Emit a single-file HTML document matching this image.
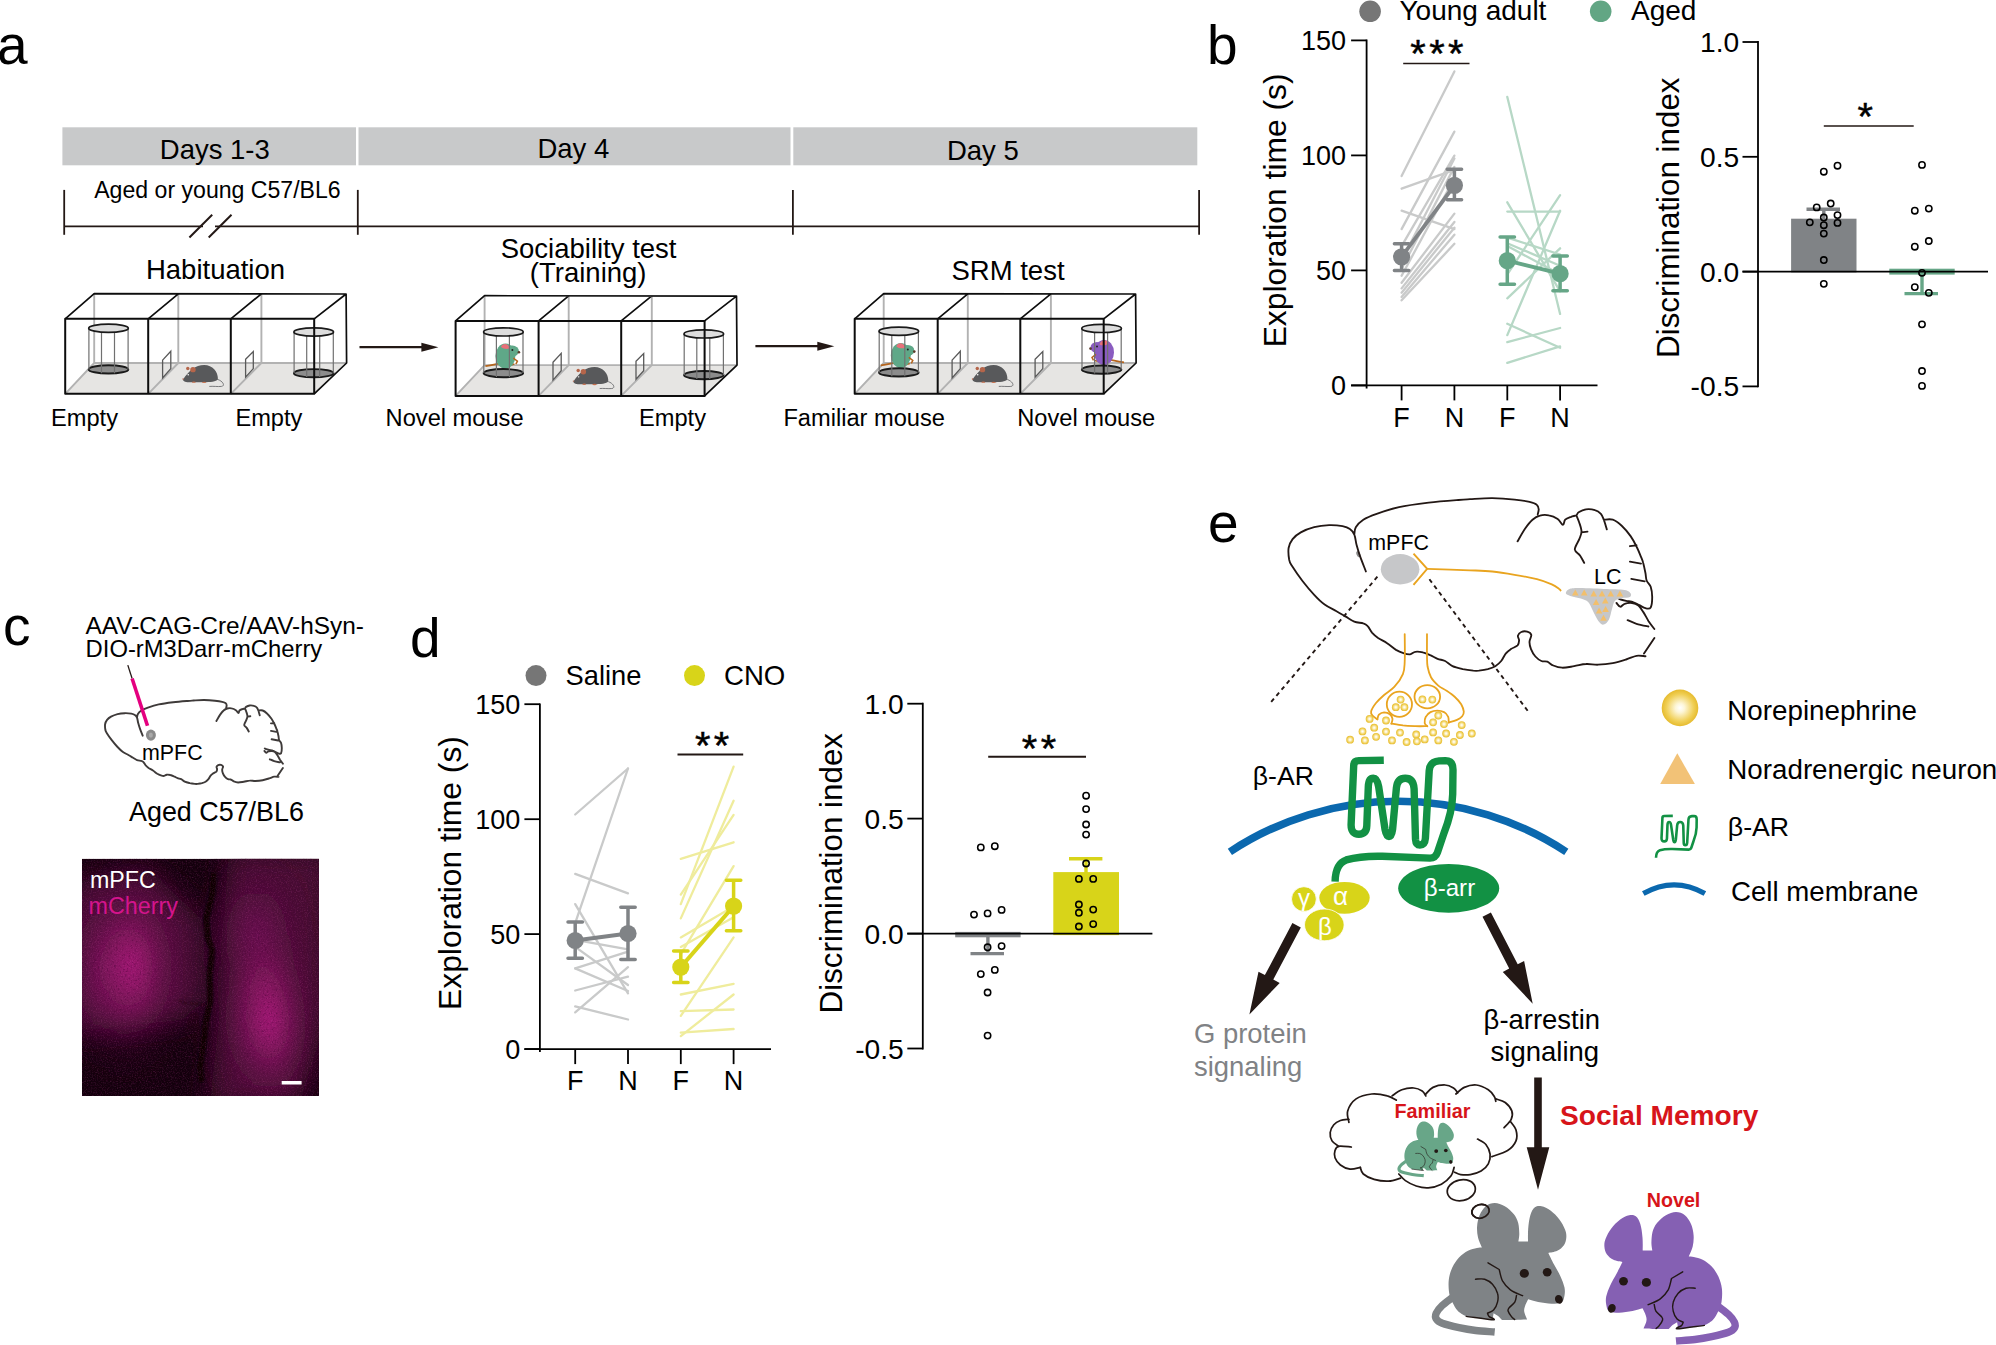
<!DOCTYPE html>
<html><head><meta charset="utf-8"><title>Figure</title>
<style>
html,body{margin:0;padding:0;background:#fff;}
body{width:1996px;height:1345px;overflow:hidden;}
svg{display:block;font-family:'Liberation Sans', Arial, Helvetica, sans-serif;}
</style></head><body>
<svg width="1996" height="1345" viewBox="0 0 1996 1345">
<rect width="1996" height="1345" fill="#fff"/>
<defs><path id="brain" d="M1365.9,571.5 C1365.0,569.1 1361.9,561.3 1360.3,556.9 C1358.7,552.5 1357.6,548.7 1356.6,545.0 C1355.6,541.3 1355.5,537.3 1354.3,534.6 C1353.2,531.9 1351.9,530.4 1349.9,529.0 C1347.9,527.5 1345.9,526.8 1342.5,526.1 C1339.0,525.5 1333.8,525.1 1329.1,525.2 C1324.4,525.4 1318.9,526.0 1314.2,527.2 C1309.5,528.4 1304.4,530.4 1300.8,532.4 C1297.2,534.4 1294.7,536.5 1292.6,539.1 C1290.6,541.7 1289.2,544.5 1288.6,548.0 C1288.1,551.5 1288.7,556.9 1289.2,559.9 C1289.8,562.9 1289.7,562.4 1291.9,565.8 C1294.1,569.3 1298.6,575.9 1302.3,580.7 C1306.0,585.5 1310.5,590.9 1314.2,594.8 C1317.9,598.8 1320.9,601.8 1324.6,604.5 C1328.3,607.2 1333.0,609.2 1336.5,611.2 C1340.0,613.2 1342.5,614.7 1345.4,616.4 C1348.4,618.1 1351.4,620.4 1354.3,621.6 C1357.3,622.8 1361.0,622.6 1363.3,623.4 C1365.5,624.1 1366.2,624.5 1367.7,626.1 C1369.2,627.6 1370.5,630.8 1372.2,632.8 C1373.9,634.7 1375.7,636.2 1378.1,638.0 C1380.6,639.7 1384.1,641.2 1387.1,643.2 C1390.0,645.1 1393.3,648.2 1396.0,649.9 C1398.7,651.5 1401.1,652.4 1403.4,653.1 C1405.8,653.9 1408.1,654.5 1410.1,654.3 C1412.1,654.1 1413.2,652.1 1415.3,651.8 C1417.4,651.5 1420.3,651.8 1422.8,652.4 C1425.2,652.9 1427.7,654.0 1430.2,655.1 C1432.7,656.1 1435.1,657.8 1437.6,658.8 C1440.1,659.8 1442.6,659.8 1445.1,661.0 C1447.5,662.2 1449.5,664.8 1452.5,666.2 C1455.5,667.6 1459.4,668.4 1462.9,669.2 C1466.4,669.9 1470.6,670.4 1473.3,670.7 C1476.0,670.9 1476.5,670.9 1478.9,670.7 C1481.3,670.4 1485.1,669.9 1487.8,669.2 C1490.6,668.4 1493.0,667.6 1495.3,666.2 C1497.5,664.8 1499.5,663.1 1501.2,661.0 C1503.0,658.9 1504.1,655.6 1505.7,653.6 C1507.3,651.6 1508.9,650.5 1510.9,649.1 C1512.9,647.7 1516.2,646.9 1517.6,645.4 C1518.9,643.9 1519.0,641.8 1519.1,640.2 C1519.1,638.6 1517.5,637.1 1517.9,635.7 C1518.3,634.4 1519.7,632.7 1521.3,632.0 C1522.9,631.3 1525.6,631.2 1527.2,631.7 C1528.9,632.2 1530.9,633.3 1531.3,635.0 C1531.6,636.6 1529.5,639.3 1529.5,641.7 C1529.4,644.0 1530.0,646.6 1531.0,649.1 C1532.0,651.6 1533.7,654.6 1535.4,656.5 C1537.2,658.5 1539.4,660.1 1541.4,661.0 C1543.4,661.9 1545.3,661.0 1547.3,661.7 C1549.3,662.5 1550.8,664.5 1553.3,665.5 C1555.7,666.5 1558.7,667.6 1562.2,667.7 C1565.7,667.8 1570.1,666.8 1574.1,666.2 C1578.1,665.6 1582.0,664.2 1586.0,664.0 C1590.0,663.7 1593.4,664.8 1597.9,664.7 C1602.3,664.6 1608.0,664.1 1612.8,663.2 C1617.5,662.4 1622.2,660.8 1626.1,659.5 C1630.1,658.3 1633.3,656.3 1636.5,655.8 C1639.8,655.3 1644.0,656.2 1645.5,656.2 M1354.3,534.6 C1354.6,533.4 1354.3,529.7 1355.8,527.2 C1357.3,524.7 1359.8,522.0 1363.3,519.7 C1366.7,517.5 1370.7,515.9 1376.7,513.8 C1382.6,511.7 1390.3,509.0 1399.0,507.1 C1407.6,505.2 1418.8,503.8 1428.7,502.6 C1438.6,501.4 1451.6,500.5 1458.4,500.0 C1465.3,499.4 1464.4,499.5 1470.0,499.2 C1475.6,498.9 1484.9,498.1 1492.3,498.2 C1499.7,498.3 1508.4,499.0 1514.6,499.7 C1520.8,500.3 1525.8,501.0 1529.5,501.9 C1533.2,502.8 1535.4,503.6 1536.9,504.9 C1538.5,506.1 1538.6,507.7 1538.7,509.3 C1538.8,510.9 1537.8,513.7 1537.7,514.5 M1517.6,541.3 C1518.8,539.2 1522.5,532.3 1525.0,528.7 C1527.5,525.1 1530.0,521.9 1532.5,519.7 C1534.9,517.6 1537.2,516.3 1539.9,515.6 C1542.6,514.8 1545.8,514.7 1548.8,515.3 C1551.8,515.8 1555.4,517.4 1557.7,519.0 C1560.1,520.6 1561.7,524.8 1562.9,524.9 C1564.2,525.1 1563.8,521.1 1565.2,519.7 C1566.5,518.4 1569.3,517.5 1571.1,516.8 C1573.0,516.0 1575.1,516.0 1576.3,515.3 C1577.6,514.5 1576.9,513.3 1578.6,512.3 C1580.2,511.3 1583.3,509.7 1586.0,509.3 C1588.7,509.0 1592.4,509.3 1594.9,510.1 C1597.4,510.8 1599.4,512.2 1600.9,513.8 C1602.3,515.4 1602.8,517.1 1603.8,519.7 C1604.8,522.3 1606.3,527.8 1606.8,529.4 M1576.3,515.3 C1576.8,516.5 1578.4,520.0 1579.3,522.7 C1580.2,525.4 1581.5,528.9 1581.5,531.6 C1581.5,534.4 1580.4,536.1 1579.3,539.1 C1578.2,542.0 1574.7,546.8 1574.8,549.5 C1575.0,552.2 1578.5,553.2 1580.0,555.4 C1581.6,557.7 1583.5,561.6 1584.2,562.9 M1581.5,532.4 L1587.5,531.6 M1603.8,519.7 C1605.3,519.7 1609.8,518.7 1612.8,519.7 C1615.7,520.7 1618.7,523.0 1621.7,525.7 C1624.6,528.4 1628.1,532.6 1630.6,536.1 C1633.1,539.6 1634.8,543.0 1636.5,546.5 C1638.3,550.0 1639.9,554.2 1641.0,556.9 C1642.1,559.6 1642.5,560.1 1643.2,562.9 C1644.0,565.6 1644.9,570.3 1645.5,573.3 C1646.0,576.2 1645.8,578.5 1646.7,580.7 C1647.5,582.9 1649.8,583.9 1650.7,586.7 C1651.6,589.4 1652.2,593.6 1652.2,597.1 C1652.2,600.5 1651.8,605.6 1650.7,607.5 C1649.6,609.3 1647.3,608.6 1645.5,608.2 C1643.6,607.8 1641.5,606.2 1639.5,605.2 C1637.5,604.3 1635.8,603.0 1633.6,602.3 C1631.3,601.5 1628.4,601.3 1626.1,600.8 C1623.9,600.3 1621.7,599.8 1620.2,599.3 C1618.7,598.8 1617.7,598.1 1617.2,597.8 M1629.9,546.2 L1636.5,545.3 M1629.9,561.7 L1641.0,563.6 M1631.3,578.9 L1644.7,581.4 M1616.5,603.0 C1617.1,603.6 1618.8,606.6 1620.2,606.7 C1621.5,606.9 1622.7,604.4 1624.6,603.8 C1626.6,603.1 1629.9,602.8 1632.1,603.0 C1634.3,603.3 1636.2,603.8 1638.0,605.2 C1639.9,606.7 1641.5,609.3 1643.2,611.9 C1645.0,614.5 1646.6,618.0 1648.4,620.9 C1650.3,623.7 1653.4,627.7 1654.4,629.0 M1627.6,620.1 C1629.1,620.7 1633.1,622.8 1636.5,623.8 C1640.0,624.9 1646.5,626.1 1648.4,626.5 M1654.4,638.0 L1644.0,653.6" fill="none" stroke-linecap="round" stroke-linejoin="round"/></defs>
<g id="panel-a">
<text x="-3.0" y="64.0" font-size="55" text-anchor="start" fill="#000">a</text>
<rect x="62.4" y="127.3" width="293.6" height="38" fill="#c8c9ca"/>
<text x="214.8" y="158.6" font-size="27.5" text-anchor="middle" fill="#000">Days 1-3</text>
<rect x="358.5" y="127.3" width="432.0" height="38" fill="#c8c9ca"/>
<text x="573.4" y="157.9" font-size="27.5" text-anchor="middle" fill="#000">Day 4</text>
<rect x="793.3" y="127.3" width="404.0" height="38" fill="#c8c9ca"/>
<text x="982.8" y="159.6" font-size="27.5" text-anchor="middle" fill="#000">Day 5</text>
<text x="94.2" y="197.5" font-size="23.1" text-anchor="start" fill="#000">Aged or young C57/BL6</text>
<line x1="64.2" y1="226.4" x2="1199.1" y2="226.4" stroke="#231815" stroke-width="1.9"/>
<line x1="64.2" y1="189.9" x2="64.2" y2="234.8" stroke="#231815" stroke-width="1.8"/>
<line x1="357.8" y1="189.9" x2="357.8" y2="234.8" stroke="#231815" stroke-width="1.8"/>
<line x1="792.9" y1="189.9" x2="792.9" y2="234.8" stroke="#231815" stroke-width="1.8"/>
<line x1="1199.1" y1="189.9" x2="1199.1" y2="234.8" stroke="#231815" stroke-width="1.8"/>
<rect x="203" y="222" width="12" height="8" fill="#fff"/>
<line x1="189.4" y1="237.5" x2="212.2" y2="214.7" stroke="#231815" stroke-width="2.0"/>
<line x1="208.7" y1="237.5" x2="231.5" y2="214.7" stroke="#231815" stroke-width="2.0"/>
<text x="215.5" y="279.0" font-size="27.5" text-anchor="middle" fill="#000">Habituation</text>
<text x="588.6" y="257.8" font-size="27.5" text-anchor="middle" fill="#000">Sociability test</text>
<text x="588.2" y="282.0" font-size="27.5" text-anchor="middle" fill="#000">(Training)</text>
<text x="1008.0" y="280.0" font-size="27.5" text-anchor="middle" fill="#000">SRM test</text>
<text x="51.0" y="426.0" font-size="23.65" text-anchor="start" fill="#000">Empty</text>
<text x="235.4" y="426.0" font-size="23.65" text-anchor="start" fill="#000">Empty</text>
<text x="385.6" y="426.0" font-size="23.65" text-anchor="start" fill="#000">Novel mouse</text>
<text x="639.0" y="426.0" font-size="23.65" text-anchor="start" fill="#000">Empty</text>
<text x="783.4" y="426.0" font-size="23.65" text-anchor="start" fill="#000">Familiar mouse</text>
<text x="1017.2" y="426.0" font-size="23.65" text-anchor="start" fill="#000">Novel mouse</text>
<line x1="359.5" y1="347.2" x2="428.4" y2="347.2" stroke="#231815" stroke-width="2.2"/>
<polygon points="438.4,347.2 421.4,342.7 421.4,351.7" fill="#231815"/>
<line x1="755.4" y1="346.2" x2="824.3" y2="346.2" stroke="#231815" stroke-width="2.2"/>
<polygon points="834.3,346.2 817.3,341.7 817.3,350.7" fill="#231815"/>
<defs>
<g id="cyl"><ellipse cx="0" cy="41.2" rx="19.8" ry="4.1" fill="#8c8c8c" stroke="#1a1a1a" stroke-width="1.9"/><path d="M-19.6,0V41.2M-7,3.8V45M6,3.9V45M19.6,0V41.2" stroke="#707070" stroke-width="1.2" fill="none"/><ellipse cx="0" cy="0" rx="19.8" ry="4.1" fill="#dddddd" stroke="#1a1a1a" stroke-width="1.7"/></g>
<g id="gmouse" transform="scale(0.86,0.78)"><path d="M18,9 C26,11 29,18 24,18.5 C20,19 14,18 10,18.5" fill="none" stroke="#6d6e70" stroke-width="1.1"/><path d="M-20,8.5 C-14,-1 -6,-9 4,-9 C14,-9 20,0 20,8 C20,12 14,13 6,13 L-14,13 C-18,13 -22,11 -20,8.5Z" fill="#58595b"/><ellipse cx="-9" cy="-3" rx="3.2" ry="3.4" fill="#b5654a"/><ellipse cx="-15" cy="-4.5" rx="2" ry="2.2" fill="#b5654a"/><ellipse cx="-8" cy="13" rx="2.2" ry="0.9" fill="#c8704d"/><ellipse cx="4" cy="13.3" rx="2.6" ry="0.9" fill="#c8704d"/><circle cx="-14.5" cy="3.5" r="0.9" fill="#fff"/><circle cx="-20.5" cy="9" r="0.9" fill="#b5654a"/></g>
<g id="cage"><polygon points="0,75 249,75 281.4,44.2 29,44.2" fill="#e6e5e3"/><path d="M29,-25.2V44.2M113.1,-25V44.2M196.2,-25V44.2M29,44.2H281.4M0,75L29,44.2M83,75L113.1,44.2M165.6,75L196.2,44.2" stroke="#b2b2b2" stroke-width="1.9" fill="none"/><path d="M97.4,41.3L105.6,32.4V49.8L97.4,59.2Z M180.4,40.4L188.1,32.7V49.8L180.4,58.3Z" fill="none" stroke="#595959" stroke-width="1.3"/></g>
<g id="cagefront"><path d="M0,0L29,-25.2L280.9,-24.8L281.4,44.2L249,75M83,0L113.1,-25M165.6,0L196.2,-25M249,0L280.9,-24.8" stroke="#0d0d0d" stroke-width="1.7" fill="none" stroke-linejoin="round"/><path d="M0,0H249V75H0ZM83,0V75M165.6,0V75" stroke="#0d0d0d" stroke-width="2" fill="none" stroke-linejoin="round"/></g>
</defs>
<use href="#cage" x="65.2" y="318.8"/>
<use href="#cyl" x="108.5" y="328.2"/>
<use href="#cyl" x="313.7" y="332"/>
<use href="#gmouse" x="200.7" y="372.0"/>
<use href="#cagefront" x="65.2" y="318.8"/>
<use href="#cage" x="455.6" y="320.9"/>
<ellipse cx="503.4" cy="373.09999999999997" rx="20" ry="4.2" fill="#8c8c8c"/>
<g transform="translate(505.4,356.09999999999997) scale(1,1)"><path d="M-20,10 C-12,9 -6,7 2,6" stroke="#b5651d" stroke-width="1.8" fill="none"/><path d="M9,8 L4,9.5" stroke="#b5651d" stroke-width="1.6" fill="none"/><ellipse cx="0" cy="0" rx="10" ry="12.5" fill="#5fa888"/><ellipse cx="7" cy="-5" rx="6.5" ry="5.5" fill="#5fa888"/><path d="M-4.5,-9 C-3,-13.5 3,-13 4.5,-8 C2,-6.5 -2,-7 -4.5,-9Z" fill="#e8707a"/><circle cx="7" cy="-6" r="1" fill="#222"/><circle cx="13.5" cy="-3.8" r="1.3" fill="#5a3a2a"/><path d="M8,2 L12,5 L10.5,8" stroke="#b5651d" stroke-width="1.5" fill="none"/></g>
<use href="#cyl" x="503.4" y="331.9"/>
<use href="#cyl" x="703.8" y="333.9"/>
<use href="#gmouse" x="591.1" y="374.09999999999997"/>
<use href="#cagefront" x="455.6" y="320.9"/>
<use href="#cage" x="854.7" y="318.8"/>
<ellipse cx="898.8" cy="372.4" rx="20" ry="4.2" fill="#8c8c8c"/>
<g transform="translate(900.8,355.4) scale(1,1)"><path d="M-20,10 C-12,9 -6,7 2,6" stroke="#b5651d" stroke-width="1.8" fill="none"/><path d="M9,8 L4,9.5" stroke="#b5651d" stroke-width="1.6" fill="none"/><ellipse cx="0" cy="0" rx="10" ry="12.5" fill="#5fa888"/><ellipse cx="7" cy="-5" rx="6.5" ry="5.5" fill="#5fa888"/><path d="M-4.5,-9 C-3,-13.5 3,-13 4.5,-8 C2,-6.5 -2,-7 -4.5,-9Z" fill="#e8707a"/><circle cx="7" cy="-6" r="1" fill="#222"/><circle cx="13.5" cy="-3.8" r="1.3" fill="#5a3a2a"/><path d="M8,2 L12,5 L10.5,8" stroke="#b5651d" stroke-width="1.5" fill="none"/></g>
<use href="#cyl" x="898.8" y="331.2"/>
<ellipse cx="1101.6" cy="369.59999999999997" rx="20" ry="4.2" fill="#8c8c8c"/>
<g transform="translate(1104.0,352.4) scale(-1,1)"><path d="M-20,10 C-12,9 -6,7 2,6" stroke="#b5651d" stroke-width="1.8" fill="none"/><path d="M9,8 L4,9.5" stroke="#b5651d" stroke-width="1.6" fill="none"/><ellipse cx="0" cy="0" rx="10" ry="12.5" fill="#8a5cc0"/><ellipse cx="7" cy="-5" rx="6.5" ry="5.5" fill="#8a5cc0"/><path d="M-4.5,-9 C-3,-13.5 3,-13 4.5,-8 C2,-6.5 -2,-7 -4.5,-9Z" fill="#e8707a"/><circle cx="7" cy="-6" r="1" fill="#222"/><circle cx="13.5" cy="-3.8" r="1.3" fill="#5a3a2a"/><path d="M8,2 L12,5 L10.5,8" stroke="#b5651d" stroke-width="1.5" fill="none"/></g>
<use href="#cyl" x="1101.6" y="328.4"/>
<use href="#gmouse" x="990.2" y="372.0"/>
<use href="#cagefront" x="854.7" y="318.8"/>
</g>
<g id="panel-b">
<text x="1207.0" y="64.0" font-size="55" text-anchor="start" fill="#000">b</text>
<circle cx="1370.1" cy="11.3" r="10.8" fill="#767676"/>
<text x="1399.5" y="19.5" font-size="28" text-anchor="start" fill="#000">Young adult</text>
<circle cx="1600.7" cy="11.3" r="10.8" fill="#62a684"/>
<text x="1631.0" y="19.5" font-size="28" text-anchor="start" fill="#000">Aged</text>
<path d="M1366.6,39.5V388.4M1366.6,385.4H1597.5" stroke="#000" stroke-width="1.8" fill="none"/>
<path d="M1351.1,385.4H1366.6" stroke="#000" stroke-width="1.8" fill="none"/>
<line x1="1351.1" y1="385.4" x2="1366.6" y2="385.4" stroke="#000" stroke-width="1.8"/>
<text x="1346.0" y="395.0" font-size="27" text-anchor="end" fill="#000">0</text>
<line x1="1351.1" y1="270.4" x2="1366.6" y2="270.4" stroke="#000" stroke-width="1.8"/>
<text x="1346.0" y="280.0" font-size="27" text-anchor="end" fill="#000">50</text>
<line x1="1351.1" y1="155.4" x2="1366.6" y2="155.4" stroke="#000" stroke-width="1.8"/>
<text x="1346.0" y="165.0" font-size="27" text-anchor="end" fill="#000">100</text>
<line x1="1351.1" y1="40.4" x2="1366.6" y2="40.4" stroke="#000" stroke-width="1.8"/>
<text x="1346.0" y="50.0" font-size="27" text-anchor="end" fill="#000">150</text>
<line x1="1401.6" y1="385.4" x2="1401.6" y2="400.4" stroke="#000" stroke-width="1.8"/>
<text x="1401.6" y="427.0" font-size="27" text-anchor="middle" fill="#000">F</text>
<line x1="1454.4" y1="385.4" x2="1454.4" y2="400.4" stroke="#000" stroke-width="1.8"/>
<text x="1454.4" y="427.0" font-size="27" text-anchor="middle" fill="#000">N</text>
<line x1="1507.3" y1="385.4" x2="1507.3" y2="400.4" stroke="#000" stroke-width="1.8"/>
<text x="1507.3" y="427.0" font-size="27" text-anchor="middle" fill="#000">F</text>
<line x1="1560.1" y1="385.4" x2="1560.1" y2="400.4" stroke="#000" stroke-width="1.8"/>
<text x="1560.1" y="427.0" font-size="27" text-anchor="middle" fill="#000">N</text>
<text transform="translate(1286.4,210.4) rotate(-90)" font-size="31.8" text-anchor="middle" fill="#000">Exploration time (s)</text>
<line x1="1401.6" y1="176.0" x2="1454.4" y2="71.4" stroke="#c9caca" stroke-width="2.3" stroke-linecap="round"/>
<line x1="1401.6" y1="188.7" x2="1454.4" y2="169.8" stroke="#c9caca" stroke-width="2.3" stroke-linecap="round"/>
<line x1="1401.6" y1="210.7" x2="1454.4" y2="229.1" stroke="#c9caca" stroke-width="2.3" stroke-linecap="round"/>
<line x1="1401.6" y1="229.1" x2="1454.4" y2="131.6" stroke="#c9caca" stroke-width="2.3" stroke-linecap="round"/>
<line x1="1401.6" y1="246.1" x2="1454.4" y2="155.6" stroke="#c9caca" stroke-width="2.3" stroke-linecap="round"/>
<line x1="1401.6" y1="260.2" x2="1454.4" y2="158.5" stroke="#c9caca" stroke-width="2.3" stroke-linecap="round"/>
<line x1="1401.6" y1="268.7" x2="1454.4" y2="166.9" stroke="#c9caca" stroke-width="2.3" stroke-linecap="round"/>
<line x1="1401.6" y1="275.7" x2="1454.4" y2="178.2" stroke="#c9caca" stroke-width="2.3" stroke-linecap="round"/>
<line x1="1401.6" y1="282.8" x2="1454.4" y2="213.6" stroke="#c9caca" stroke-width="2.3" stroke-linecap="round"/>
<line x1="1401.6" y1="288.4" x2="1454.4" y2="222.0" stroke="#c9caca" stroke-width="2.3" stroke-linecap="round"/>
<line x1="1401.6" y1="292.7" x2="1454.4" y2="227.7" stroke="#c9caca" stroke-width="2.3" stroke-linecap="round"/>
<line x1="1401.6" y1="296.9" x2="1454.4" y2="234.7" stroke="#c9caca" stroke-width="2.3" stroke-linecap="round"/>
<line x1="1401.6" y1="300.3" x2="1454.4" y2="243.8" stroke="#c9caca" stroke-width="2.3" stroke-linecap="round"/>
<line x1="1507.3" y1="96.9" x2="1560.1" y2="313.9" stroke="#b7d8c6" stroke-width="2.3" stroke-linecap="round"/>
<line x1="1507.3" y1="202.3" x2="1560.1" y2="291.3" stroke="#b7d8c6" stroke-width="2.3" stroke-linecap="round"/>
<line x1="1507.3" y1="211.6" x2="1560.1" y2="211.6" stroke="#b7d8c6" stroke-width="2.3" stroke-linecap="round"/>
<line x1="1507.3" y1="237.6" x2="1560.1" y2="254.5" stroke="#b7d8c6" stroke-width="2.3" stroke-linecap="round"/>
<line x1="1507.3" y1="243.2" x2="1560.1" y2="265.8" stroke="#b7d8c6" stroke-width="2.3" stroke-linecap="round"/>
<line x1="1507.3" y1="246.1" x2="1560.1" y2="274.3" stroke="#b7d8c6" stroke-width="2.3" stroke-linecap="round"/>
<line x1="1507.3" y1="274.3" x2="1560.1" y2="195.2" stroke="#b7d8c6" stroke-width="2.3" stroke-linecap="round"/>
<line x1="1507.3" y1="335.1" x2="1560.1" y2="210.7" stroke="#b7d8c6" stroke-width="2.3" stroke-linecap="round"/>
<line x1="1507.3" y1="323.8" x2="1560.1" y2="347.8" stroke="#b7d8c6" stroke-width="2.3" stroke-linecap="round"/>
<line x1="1507.3" y1="342.1" x2="1560.1" y2="328.0" stroke="#b7d8c6" stroke-width="2.3" stroke-linecap="round"/>
<line x1="1507.3" y1="362.8" x2="1560.1" y2="346.4" stroke="#b7d8c6" stroke-width="2.3" stroke-linecap="round"/>
<line x1="1507.3" y1="298.3" x2="1560.1" y2="248.3" stroke="#b7d8c6" stroke-width="2.3" stroke-linecap="round"/>
<line x1="1401.6" y1="256.8" x2="1454.4" y2="185.3" stroke="#808386" stroke-width="3.9"/>
<path d="M1401.6,243.8V270.4M1394.4,243.8H1408.8M1394.4,270.4H1408.8" stroke="#808386" stroke-width="3.5" fill="none" stroke-linecap="round"/>
<circle cx="1401.6" cy="256.8" r="8.6" fill="#808386"/>
<path d="M1454.4,169.2V199.7M1447.2,169.2H1461.6M1447.2,199.7H1461.6" stroke="#808386" stroke-width="3.5" fill="none" stroke-linecap="round"/>
<circle cx="1454.4" cy="185.3" r="8.6" fill="#808386"/>
<line x1="1507.3" y1="260.7" x2="1560.1" y2="273.7" stroke="#66a687" stroke-width="3.9"/>
<path d="M1507.3,237.0V284.2M1500.1,237.0H1514.5M1500.1,284.2H1514.5" stroke="#66a687" stroke-width="3.5" fill="none" stroke-linecap="round"/>
<circle cx="1507.3" cy="260.7" r="8.6" fill="#66a687"/>
<path d="M1560.1,255.9V290.7M1552.9,255.9H1567.3M1552.9,290.7H1567.3" stroke="#66a687" stroke-width="3.5" fill="none" stroke-linecap="round"/>
<circle cx="1560.1" cy="273.7" r="8.6" fill="#66a687"/>
<line x1="1403.2" y1="63.4" x2="1469.5" y2="63.4" stroke="#231815" stroke-width="1.5"/>
<text x="1410.2" y="67.3" font-size="39.7" letter-spacing="3.5" fill="#000" stroke="#000" stroke-width="0.5">***</text>
<path d="M1823.8,245.5V209.2M1806.5,209.2H1840" stroke="#808386" stroke-width="3.4" fill="none" stroke-linecap="butt"/>
<rect x="1791.1" y="218.7" width="65.4" height="53.7" fill="#808386"/>
<path d="M1922,271.6V293.6M1904.5,293.6H1938" stroke="#66a687" stroke-width="3.4" fill="none" stroke-linecap="butt"/>
<rect x="1889.3" y="268.7" width="65.4" height="5.9" fill="#66a687"/>
<path d="M1758,41.1V387.3" stroke="#000" stroke-width="1.8" fill="none"/>
<line x1="1742.5" y1="271.6" x2="1988.0" y2="271.6" stroke="#000" stroke-width="1.9"/>
<line x1="1742.5" y1="42.0" x2="1758.0" y2="42.0" stroke="#000" stroke-width="1.8"/>
<text x="1739.2" y="52.0" font-size="28.2" text-anchor="end" fill="#000">1.0</text>
<line x1="1742.5" y1="156.8" x2="1758.0" y2="156.8" stroke="#000" stroke-width="1.8"/>
<text x="1739.2" y="166.8" font-size="28.2" text-anchor="end" fill="#000">0.5</text>
<line x1="1742.5" y1="271.6" x2="1758.0" y2="271.6" stroke="#000" stroke-width="1.8"/>
<text x="1739.2" y="281.6" font-size="28.2" text-anchor="end" fill="#000">0.0</text>
<line x1="1742.5" y1="386.4" x2="1758.0" y2="386.4" stroke="#000" stroke-width="1.8"/>
<text x="1739.2" y="396.4" font-size="28.2" text-anchor="end" fill="#000">-0.5</text>
<text transform="translate(1678.5,217.7) rotate(-90)" font-size="31.35" text-anchor="middle" fill="#000">Discrimination index</text>
<circle cx="1823.8" cy="171.7" r="3.15" fill="none" stroke="#000" stroke-width="1.55"/>
<circle cx="1837.5" cy="165.7" r="3.15" fill="none" stroke="#000" stroke-width="1.55"/>
<circle cx="1816.7" cy="207.4" r="3.15" fill="none" stroke="#000" stroke-width="1.55"/>
<circle cx="1830.7" cy="203.5" r="3.15" fill="none" stroke="#000" stroke-width="1.55"/>
<circle cx="1837.5" cy="215.1" r="3.15" fill="none" stroke="#000" stroke-width="1.55"/>
<circle cx="1809.8" cy="222.3" r="3.15" fill="none" stroke="#000" stroke-width="1.55"/>
<circle cx="1823.8" cy="217.5" r="3.15" fill="none" stroke="#000" stroke-width="1.55"/>
<circle cx="1837.5" cy="222.9" r="3.15" fill="none" stroke="#000" stroke-width="1.55"/>
<circle cx="1823.8" cy="225.2" r="3.15" fill="none" stroke="#000" stroke-width="1.55"/>
<circle cx="1823.8" cy="233.6" r="3.15" fill="none" stroke="#000" stroke-width="1.55"/>
<circle cx="1823.8" cy="260.0" r="3.15" fill="none" stroke="#000" stroke-width="1.55"/>
<circle cx="1823.8" cy="283.8" r="3.15" fill="none" stroke="#000" stroke-width="1.55"/>
<circle cx="1922.0" cy="164.9" r="3.15" fill="none" stroke="#000" stroke-width="1.55"/>
<circle cx="1914.8" cy="210.7" r="3.15" fill="none" stroke="#000" stroke-width="1.55"/>
<circle cx="1928.8" cy="208.6" r="3.15" fill="none" stroke="#000" stroke-width="1.55"/>
<circle cx="1928.8" cy="241.0" r="3.15" fill="none" stroke="#000" stroke-width="1.55"/>
<circle cx="1914.8" cy="246.7" r="3.15" fill="none" stroke="#000" stroke-width="1.55"/>
<circle cx="1922.0" cy="272.8" r="3.15" fill="none" stroke="#000" stroke-width="1.55"/>
<circle cx="1914.8" cy="287.1" r="3.15" fill="none" stroke="#000" stroke-width="1.55"/>
<circle cx="1928.8" cy="292.8" r="3.15" fill="none" stroke="#000" stroke-width="1.55"/>
<circle cx="1922.0" cy="324.3" r="3.15" fill="none" stroke="#000" stroke-width="1.55"/>
<circle cx="1922.0" cy="371.0" r="3.15" fill="none" stroke="#000" stroke-width="1.55"/>
<circle cx="1922.0" cy="385.9" r="3.15" fill="none" stroke="#000" stroke-width="1.55"/>
<line x1="1823.8" y1="125.9" x2="1913.7" y2="125.9" stroke="#231815" stroke-width="1.5"/>
<text x="1857.4" y="129.8" font-size="39.7" letter-spacing="3.5" fill="#000" stroke="#000" stroke-width="0.5">*</text>
</g>
<g id="panel-c">
<text x="3.0" y="645.0" font-size="55" text-anchor="start" fill="#000">c</text>
<text x="85.6" y="633.6" font-size="24.4" text-anchor="start" fill="#000">AAV-CAG-Cre/AAV-hSyn-</text>
<text x="85.6" y="657.1" font-size="23.8" text-anchor="start" fill="#000">DIO-rM3Darr-mCherry</text>
<use href="#brain" transform="translate(-521.16,457.93) scale(0.486)" stroke="#3e3a39" stroke-width="3.91"/>
<line x1="127.8" y1="665.1" x2="132.1" y2="678.5" stroke="#231815" stroke-width="1.3"/>
<line x1="132.1" y1="678.5" x2="147.5" y2="725.8" stroke="#e4007f" stroke-width="3.6"/>
<ellipse cx="150.9" cy="735.1" rx="5" ry="5.6" fill="#8a8a8a"/>
<ellipse cx="150.9" cy="735.1" rx="2" ry="2.6" fill="#a9a9a9"/>
<text x="142.0" y="759.7" font-size="21.4" text-anchor="start" fill="#000">mPFC</text>
<text x="129.0" y="821.3" font-size="26.9" text-anchor="start" fill="#000">Aged C57/BL6</text>
<defs>
<radialGradient id="mgA"><stop offset="0.0" stop-color="#a61b76" stop-opacity="1.000"/><stop offset="0.1" stop-color="#9e1a71" stop-opacity="0.948"/><stop offset="0.2" stop-color="#97186b" stop-opacity="0.809"/><stop offset="0.3" stop-color="#8f1766" stop-opacity="0.621"/><stop offset="0.4" stop-color="#881661" stop-opacity="0.429"/><stop offset="0.5" stop-color="#80145c" stop-opacity="0.266"/><stop offset="0.6" stop-color="#781356" stop-opacity="0.149"/><stop offset="0.7" stop-color="#711251" stop-opacity="0.075"/><stop offset="0.8" stop-color="#69114c" stop-opacity="0.034"/><stop offset="0.9" stop-color="#620f46" stop-opacity="0.014"/><stop offset="1.0" stop-color="#5a0e41" stop-opacity="0.000"/></radialGradient>
<radialGradient id="mgB"><stop offset="0.0" stop-color="#62104a" stop-opacity="0.950"/><stop offset="0.1" stop-color="#5f0f48" stop-opacity="0.901"/><stop offset="0.2" stop-color="#5c0f45" stop-opacity="0.769"/><stop offset="0.3" stop-color="#5a0e43" stop-opacity="0.590"/><stop offset="0.4" stop-color="#570e41" stop-opacity="0.408"/><stop offset="0.5" stop-color="#540d3e" stop-opacity="0.253"/><stop offset="0.6" stop-color="#510c3c" stop-opacity="0.141"/><stop offset="0.7" stop-color="#4e0c3a" stop-opacity="0.071"/><stop offset="0.8" stop-color="#4c0b38" stop-opacity="0.032"/><stop offset="0.9" stop-color="#490b35" stop-opacity="0.013"/><stop offset="1.0" stop-color="#460a33" stop-opacity="0.000"/></radialGradient>
<clipPath id="mgclip"><rect x="82" y="858.7" width="237" height="237.4"/></clipPath>
<filter id="blur12" x="-50%" y="-50%" width="200%" height="200%"><feGaussianBlur stdDeviation="13"/></filter>
<filter id="blur7" x="-50%" y="-50%" width="200%" height="200%"><feGaussianBlur stdDeviation="4"/></filter>
<filter id="blur2" x="-50%" y="-50%" width="200%" height="200%"><feGaussianBlur stdDeviation="1.1"/></filter>
<filter id="noise" x="0" y="0" width="100%" height="100%"><feTurbulence type="fractalNoise" baseFrequency="0.8" numOctaves="2" seed="7" result="n"/><feColorMatrix in="n" type="matrix" values="0 0 0 0 0.85  0 0 0 0 0.12  0 0 0 0 0.55  0 0 0 2.2 -1.05"/></filter>
<filter id="noised" x="0" y="0" width="100%" height="100%"><feTurbulence type="fractalNoise" baseFrequency="0.55" numOctaves="2" seed="11" result="n"/><feColorMatrix in="n" type="matrix" values="0 0 0 0 0.05  0 0 0 0 0  0 0 0 0 0.03  0 0 0 2.4 -1.25"/></filter>
</defs>
<g clip-path="url(#mgclip)">
<rect x="82" y="858.7" width="237" height="237.4" fill="#13000c"/>
<g filter="url(#blur12)">
<polygon points="70.0,882.9 147.3,867.4 201.5,919.6 203.4,1000.8 182.1,1020.1 70.0,1031.7" fill="#480a34"/>
<polygon points="228.5,850.0 331.0,850.0 331.0,1004.6 298.1,1107.1 209.2,1107.1 220.8,1004.6 224.6,908.0" fill="#460a33"/>
</g>
<g filter="url(#blur7)">
<ellipse cx="108.7" cy="969.9" rx="81.2" ry="116.0" fill="url(#mgB)" opacity="1" transform="rotate(0 108.7 969.9)"/>
<ellipse cx="255.6" cy="931.2" rx="73.5" ry="104.4" fill="url(#mgB)" opacity="1" transform="rotate(0 255.6 931.2)"/>
<ellipse cx="263.3" cy="1024.0" rx="81.2" ry="127.6" fill="url(#mgB)" opacity="1" transform="rotate(0 263.3 1024.0)"/>
<ellipse cx="126.1" cy="967.9" rx="90.9" ry="123.7" fill="url(#mgA)" opacity="0.55" transform="rotate(0 126.1 967.9)"/>
<ellipse cx="265.2" cy="993.1" rx="63.8" ry="146.9" fill="url(#mgA)" opacity="0.45" transform="rotate(-3 265.2 993.1)"/>
<ellipse cx="131.9" cy="966.0" rx="65.7" ry="119.9" fill="url(#mgA)" opacity="0.8" transform="rotate(0 131.9 966.0)"/>
<ellipse cx="269.1" cy="1020.1" rx="59.9" ry="117.9" fill="url(#mgA)" opacity="0.85" transform="rotate(-4 269.1 1020.1)"/>
</g>
<g filter="url(#blur2)">
<polyline points="214.0,873.2 212.1,894.5 206.3,917.7 207.6,937.0 212.1,950.5 209.6,975.7 210.2,1000.8 205.3,1024.0 203.4,1045.2 199.9,1066.5 201.5,1082.0" fill="none" stroke="#090005" stroke-width="6" stroke-linejoin="round"/>
<polyline points="205.3,1004.6 186.0,1002.7 178.3,1000.8" fill="none" stroke="#1a0010" stroke-width="1.5" opacity="0.7"/>
</g>
<rect x="82" y="858.7" width="237" height="237.4" filter="url(#noised)" opacity="0.5"/>
<rect x="82" y="858.7" width="237" height="237.4" filter="url(#noise)" opacity="0.2"/>
</g>
<text x="90.0" y="888.3" font-size="23.2" text-anchor="start" fill="#fff">mPFC</text>
<text x="88.5" y="914.2" font-size="23.3" text-anchor="start" fill="#d4148c">mCherry</text>
<rect x="281.7" y="1081" width="19.9" height="3.5" fill="#fff"/>
</g>
<g id="panel-d">
<text x="410.0" y="657.0" font-size="55" text-anchor="start" fill="#000">d</text>
<circle cx="536" cy="675.6" r="10.5" fill="#767676"/>
<text x="565.6" y="684.7" font-size="27.3" text-anchor="start" fill="#000">Saline</text>
<circle cx="694.5" cy="675.6" r="10.5" fill="#d8d419"/>
<text x="724.0" y="684.7" font-size="27.6" text-anchor="start" fill="#000">CNO</text>
<path d="M539.9,703.4V1052.1M539.9,1049.1H771" stroke="#000" stroke-width="1.8" fill="none"/>
<path d="M524.4,1049.1H539.9" stroke="#000" stroke-width="1.8" fill="none"/>
<line x1="524.4" y1="1049.1" x2="539.9" y2="1049.1" stroke="#000" stroke-width="1.8"/>
<text x="520.4" y="1058.7" font-size="27" text-anchor="end" fill="#000">0</text>
<line x1="524.4" y1="934.1" x2="539.9" y2="934.1" stroke="#000" stroke-width="1.8"/>
<text x="520.4" y="943.7" font-size="27" text-anchor="end" fill="#000">50</text>
<line x1="524.4" y1="819.2" x2="539.9" y2="819.2" stroke="#000" stroke-width="1.8"/>
<text x="520.4" y="828.8" font-size="27" text-anchor="end" fill="#000">100</text>
<line x1="524.4" y1="704.2" x2="539.9" y2="704.2" stroke="#000" stroke-width="1.8"/>
<text x="520.4" y="713.9" font-size="27" text-anchor="end" fill="#000">150</text>
<line x1="575.2" y1="1049.1" x2="575.2" y2="1064.1" stroke="#000" stroke-width="1.8"/>
<text x="575.2" y="1089.5" font-size="27" text-anchor="middle" fill="#000">F</text>
<line x1="628.0" y1="1049.1" x2="628.0" y2="1064.1" stroke="#000" stroke-width="1.8"/>
<text x="628.0" y="1089.5" font-size="27" text-anchor="middle" fill="#000">N</text>
<line x1="680.8" y1="1049.1" x2="680.8" y2="1064.1" stroke="#000" stroke-width="1.8"/>
<text x="680.8" y="1089.5" font-size="27" text-anchor="middle" fill="#000">F</text>
<line x1="733.6" y1="1049.1" x2="733.6" y2="1064.1" stroke="#000" stroke-width="1.8"/>
<text x="733.6" y="1089.5" font-size="27" text-anchor="middle" fill="#000">N</text>
<text transform="translate(461.0,873.0) rotate(-90)" font-size="31.8" text-anchor="middle" fill="#000">Exploration time (s)</text>
<line x1="575.2" y1="814.5" x2="628.0" y2="768.5" stroke="#c9caca" stroke-width="2.3" stroke-linecap="round"/>
<line x1="575.2" y1="873.9" x2="628.0" y2="893.4" stroke="#c9caca" stroke-width="2.3" stroke-linecap="round"/>
<line x1="575.2" y1="923.2" x2="628.0" y2="768.5" stroke="#c9caca" stroke-width="2.3" stroke-linecap="round"/>
<line x1="575.2" y1="904.1" x2="628.0" y2="993.3" stroke="#c9caca" stroke-width="2.3" stroke-linecap="round"/>
<line x1="575.2" y1="939.8" x2="628.0" y2="949.3" stroke="#c9caca" stroke-width="2.3" stroke-linecap="round"/>
<line x1="575.2" y1="946.9" x2="628.0" y2="985.0" stroke="#c9caca" stroke-width="2.3" stroke-linecap="round"/>
<line x1="575.2" y1="968.4" x2="628.0" y2="951.7" stroke="#c9caca" stroke-width="2.3" stroke-linecap="round"/>
<line x1="575.2" y1="968.4" x2="628.0" y2="991.0" stroke="#c9caca" stroke-width="2.3" stroke-linecap="round"/>
<line x1="575.2" y1="990.5" x2="628.0" y2="976.7" stroke="#c9caca" stroke-width="2.3" stroke-linecap="round"/>
<line x1="575.2" y1="1012.4" x2="628.0" y2="967.2" stroke="#c9caca" stroke-width="2.3" stroke-linecap="round"/>
<line x1="575.2" y1="1006.4" x2="628.0" y2="1019.5" stroke="#c9caca" stroke-width="2.3" stroke-linecap="round"/>
<line x1="680.8" y1="858.9" x2="733.6" y2="842.3" stroke="#efec9c" stroke-width="2.3" stroke-linecap="round"/>
<line x1="680.8" y1="904.1" x2="733.6" y2="766.6" stroke="#efec9c" stroke-width="2.3" stroke-linecap="round"/>
<line x1="680.8" y1="918.4" x2="733.6" y2="800.7" stroke="#efec9c" stroke-width="2.3" stroke-linecap="round"/>
<line x1="680.8" y1="937.4" x2="733.6" y2="906.5" stroke="#efec9c" stroke-width="2.3" stroke-linecap="round"/>
<line x1="680.8" y1="894.6" x2="733.6" y2="814.9" stroke="#efec9c" stroke-width="2.3" stroke-linecap="round"/>
<line x1="680.8" y1="954.1" x2="733.6" y2="866.1" stroke="#efec9c" stroke-width="2.3" stroke-linecap="round"/>
<line x1="680.8" y1="946.9" x2="733.6" y2="917.2" stroke="#efec9c" stroke-width="2.3" stroke-linecap="round"/>
<line x1="680.8" y1="994.5" x2="733.6" y2="983.8" stroke="#efec9c" stroke-width="2.3" stroke-linecap="round"/>
<line x1="680.8" y1="1015.9" x2="733.6" y2="937.4" stroke="#efec9c" stroke-width="2.3" stroke-linecap="round"/>
<line x1="680.8" y1="1011.2" x2="733.6" y2="1009.5" stroke="#efec9c" stroke-width="2.3" stroke-linecap="round"/>
<line x1="680.8" y1="1036.1" x2="733.6" y2="994.5" stroke="#efec9c" stroke-width="2.3" stroke-linecap="round"/>
<line x1="680.8" y1="1032.6" x2="733.6" y2="1029.0" stroke="#efec9c" stroke-width="2.3" stroke-linecap="round"/>
<line x1="575.2" y1="940.5" x2="628.0" y2="933.5" stroke="#808386" stroke-width="3.9"/>
<path d="M575.2,921.9V958.3M568.0,921.9H582.4M568.0,958.3H582.4" stroke="#808386" stroke-width="3.5" fill="none" stroke-linecap="round"/>
<circle cx="575.2" cy="940.5" r="8.6" fill="#808386"/>
<path d="M628,907.2V959.4M620.8,907.2H635.2M620.8,959.4H635.2" stroke="#808386" stroke-width="3.5" fill="none" stroke-linecap="round"/>
<circle cx="628" cy="933.5" r="8.6" fill="#808386"/>
<line x1="680.8" y1="967.1" x2="733.6" y2="906.1" stroke="#d8d419" stroke-width="3.9"/>
<path d="M680.8,950.9V982.6M673.6,950.9H688.0M673.6,982.6H688.0" stroke="#d8d419" stroke-width="3.5" fill="none" stroke-linecap="round"/>
<circle cx="680.8" cy="967.1" r="8.6" fill="#d8d419"/>
<path d="M733.6,880.2V930.8M726.4,880.2H740.8M726.4,930.8H740.8" stroke="#d8d419" stroke-width="3.5" fill="none" stroke-linecap="round"/>
<circle cx="733.6" cy="906.1" r="8.6" fill="#d8d419"/>
<line x1="677.5" y1="754.6" x2="743.2" y2="754.6" stroke="#231815" stroke-width="2.0"/>
<text x="694.9" y="759.4" font-size="39.7" letter-spacing="3.5" fill="#000" stroke="#000" stroke-width="0.5">**</text>
<path d="M987.9,934.6V953.6M970.5,953.6H1004" stroke="#808386" stroke-width="3.4" fill="none" stroke-linecap="butt"/>
<rect x="955.2" y="931.9" width="65.4" height="5.4" fill="#808386"/>
<path d="M1086,903.6V858.7M1069,858.7H1102.4" stroke="#d8d419" stroke-width="3.4" fill="none" stroke-linecap="butt"/>
<rect x="1053.3" y="872.1" width="65.7" height="63.0" fill="#d8d419"/>
<path d="M922.8,702.8V1049.5" stroke="#000" stroke-width="1.8" fill="none"/>
<line x1="907.3" y1="933.6" x2="1152.4" y2="933.6" stroke="#000" stroke-width="1.9"/>
<line x1="907.3" y1="703.7" x2="922.8" y2="703.7" stroke="#000" stroke-width="1.8"/>
<text x="903.8" y="713.7" font-size="28.2" text-anchor="end" fill="#000">1.0</text>
<line x1="907.3" y1="818.6" x2="922.8" y2="818.6" stroke="#000" stroke-width="1.8"/>
<text x="903.8" y="828.6" font-size="28.2" text-anchor="end" fill="#000">0.5</text>
<line x1="907.3" y1="933.6" x2="922.8" y2="933.6" stroke="#000" stroke-width="1.8"/>
<text x="903.8" y="943.6" font-size="28.2" text-anchor="end" fill="#000">0.0</text>
<line x1="907.3" y1="1048.5" x2="922.8" y2="1048.5" stroke="#000" stroke-width="1.8"/>
<text x="903.8" y="1058.5" font-size="28.2" text-anchor="end" fill="#000">-0.5</text>
<text transform="translate(842.2,873.2) rotate(-90)" font-size="31.35" text-anchor="middle" fill="#000">Discrimination index</text>
<circle cx="980.8" cy="847.4" r="3.15" fill="none" stroke="#000" stroke-width="1.55"/>
<circle cx="994.8" cy="846.2" r="3.15" fill="none" stroke="#000" stroke-width="1.55"/>
<circle cx="974.0" cy="914.6" r="3.15" fill="none" stroke="#000" stroke-width="1.55"/>
<circle cx="987.6" cy="913.4" r="3.15" fill="none" stroke="#000" stroke-width="1.55"/>
<circle cx="1001.6" cy="909.9" r="3.15" fill="none" stroke="#000" stroke-width="1.55"/>
<circle cx="987.6" cy="947.3" r="3.15" fill="none" stroke="#000" stroke-width="1.55"/>
<circle cx="1001.6" cy="946.1" r="3.15" fill="none" stroke="#000" stroke-width="1.55"/>
<circle cx="994.8" cy="969.9" r="3.15" fill="none" stroke="#000" stroke-width="1.55"/>
<circle cx="980.8" cy="974.1" r="3.15" fill="none" stroke="#000" stroke-width="1.55"/>
<circle cx="987.6" cy="992.5" r="3.15" fill="none" stroke="#000" stroke-width="1.55"/>
<circle cx="987.6" cy="1035.6" r="3.15" fill="none" stroke="#000" stroke-width="1.55"/>
<circle cx="1086.1" cy="795.7" r="3.15" fill="none" stroke="#000" stroke-width="1.55"/>
<circle cx="1086.1" cy="809.1" r="3.15" fill="none" stroke="#000" stroke-width="1.55"/>
<circle cx="1086.1" cy="824.5" r="3.15" fill="none" stroke="#000" stroke-width="1.55"/>
<circle cx="1086.1" cy="834.6" r="3.15" fill="none" stroke="#000" stroke-width="1.55"/>
<circle cx="1086.1" cy="863.5" r="3.15" fill="none" stroke="#000" stroke-width="1.55"/>
<circle cx="1078.9" cy="878.9" r="3.15" fill="none" stroke="#000" stroke-width="1.55"/>
<circle cx="1093.2" cy="878.9" r="3.15" fill="none" stroke="#000" stroke-width="1.55"/>
<circle cx="1078.9" cy="904.5" r="3.15" fill="none" stroke="#000" stroke-width="1.55"/>
<circle cx="1093.2" cy="909.6" r="3.15" fill="none" stroke="#000" stroke-width="1.55"/>
<circle cx="1078.9" cy="912.8" r="3.15" fill="none" stroke="#000" stroke-width="1.55"/>
<circle cx="1093.2" cy="924.1" r="3.15" fill="none" stroke="#000" stroke-width="1.55"/>
<circle cx="1078.9" cy="926.5" r="3.15" fill="none" stroke="#000" stroke-width="1.55"/>
<line x1="988.2" y1="756.7" x2="1086.0" y2="756.7" stroke="#231815" stroke-width="2.0"/>
<text x="1021.7" y="761.5" font-size="39.7" letter-spacing="3.5" fill="#000" stroke="#000" stroke-width="0.5">**</text>
</g>
<g id="panel-e">
<text x="1208.0" y="541.5" font-size="55" text-anchor="start" fill="#000">e</text>
<defs><radialGradient id="ne" cx="0.5" cy="0.5" r="0.5"><stop offset="0" stop-color="#ffffff"/><stop offset="0.25" stop-color="#fdf6d8"/><stop offset="0.75" stop-color="#f0cf55"/><stop offset="1" stop-color="#e6bb2e"/></radialGradient></defs>
<ellipse cx="1358.3" cy="554.2" rx="1.8" ry="3.2" fill="#8a8a8a" transform="rotate(-20 1358.3 554.2)"/>
<use href="#brain" stroke="#231815" stroke-width="1.85"/>
<ellipse cx="1400.1" cy="569.3" rx="19.3" ry="15.2" fill="#c6c7c9"/>
<text x="1368.3" y="550.2" font-size="21.4" text-anchor="start" fill="#000">mPFC</text>
<path d="M1565.9,592.6 C1566.2,591.7 1567.0,590.1 1568.9,589.3 C1570.7,588.6 1571.2,588.2 1577.1,588.1 C1582.9,588.1 1595.9,588.6 1603.8,588.9 C1611.8,589.2 1620.2,589.2 1624.6,589.9 C1629.1,590.7 1629.7,592.2 1630.6,593.3 C1631.5,594.5 1631.3,596.2 1629.9,597.1 C1628.4,597.9 1624.2,597.6 1621.7,598.3 C1619.2,598.9 1616.6,599.0 1615.0,600.8 C1613.4,602.6 1613.0,605.9 1612.0,609.0 C1611.0,612.1 1610.4,616.8 1609.0,619.4 C1607.7,622.0 1605.4,624.1 1603.8,624.6 C1602.2,625.1 1601.0,624.2 1599.4,622.3 C1597.8,620.5 1595.9,616.6 1594.2,613.4 C1592.4,610.2 1590.8,605.4 1589.0,603.0 C1587.1,600.7 1585.5,600.3 1583.0,599.3 C1580.5,598.3 1576.7,597.8 1574.1,597.1 C1571.5,596.3 1568.8,595.6 1567.4,594.8 C1566.0,594.1 1565.7,593.5 1565.9,592.6Z" fill="#c6c7c9"/>
<polygon points="1575.3,589.4 1572.0,595.4 1578.6,595.4" fill="#f2bf6c"/>
<polygon points="1584.2,589.4 1580.9,595.4 1587.5,595.4" fill="#f2bf6c"/>
<polygon points="1593.7,590.4 1590.4,596.4 1597.0,596.4" fill="#f2bf6c"/>
<polygon points="1602.0,590.4 1598.7,596.4 1605.3,596.4" fill="#f2bf6c"/>
<polygon points="1610.7,590.4 1607.4,596.4 1614.0,596.4" fill="#f2bf6c"/>
<polygon points="1619.9,590.4 1616.6,596.4 1623.2,596.4" fill="#f2bf6c"/>
<polygon points="1596.1,599.1 1592.8,605.1 1599.4,605.1" fill="#f2bf6c"/>
<polygon points="1605.3,597.6 1602.0,603.6 1608.6,603.6" fill="#f2bf6c"/>
<polygon points="1599.1,607.5 1595.8,613.5 1602.4,613.5" fill="#f2bf6c"/>
<polygon points="1605.6,606.1 1602.3,612.1 1608.9,612.1" fill="#f2bf6c"/>
<polygon points="1603.5,614.7 1600.2,620.7 1606.8,620.7" fill="#f2bf6c"/>
<text x="1594.0" y="583.7" font-size="21.4" text-anchor="start" fill="#000">LC</text>
<path d="M1427.2,568.8 C1434.3,569.0 1459.1,569.8 1470.0,570.3 C1480.9,570.7 1484.9,570.7 1492.3,571.5 C1499.7,572.2 1507.2,573.5 1514.6,574.8 C1522.0,576.0 1530.7,577.6 1536.9,579.2 C1543.1,580.8 1548.1,582.8 1551.8,584.4 C1555.5,586.0 1557.7,587.8 1559.2,588.9 C1560.8,590.0 1560.7,590.7 1561.0,591.1" stroke="#e9a41f" stroke-width="1.8" fill="none"/>
<path d="M1413.5,553.6L1427.2,568.8L1413.5,584.9" stroke="#e9a41f" stroke-width="1.9" fill="none" stroke-linejoin="miter"/>
<path d="M1377.4,576.7L1269.2,704.3M1429.4,579.2L1529.3,713" stroke="#231815" stroke-width="1.9" stroke-dasharray="4.2 3.8" fill="none"/>
<path d="M1404.7,634.1 C1404.7,638.7 1405.1,655.0 1404.7,661.6 C1404.4,668.3 1404.6,670.0 1402.9,674.1 C1401.2,678.3 1397.7,683.2 1394.5,686.6 C1391.4,690.1 1387.3,692.2 1384.1,695.0 C1381.0,697.7 1378.0,700.5 1375.8,703.3 C1373.6,706.1 1371.6,709.5 1371.1,711.6 C1370.6,713.7 1371.6,714.5 1372.7,715.8 C1373.7,717.1 1376.6,718.8 1377.4,719.4" stroke="#e9a41f" stroke-width="1.8" fill="none" stroke-linecap="round"/>
<path d="M1377.4,719.4 C1377.6,718.6 1377.8,715.9 1378.9,714.7 C1380.1,713.6 1382.3,712.5 1384.1,712.4 C1386.0,712.4 1388.5,713.1 1389.9,714.2 C1391.2,715.3 1392.2,717.3 1392.5,718.9 C1392.7,720.5 1391.6,722.8 1391.4,723.6" stroke="#e9a41f" stroke-width="1.8" fill="none" stroke-linecap="round"/>
<path d="M1391.4,723.6 C1393.3,723.9 1398.9,724.9 1402.9,725.4 C1406.9,725.8 1411.3,726.0 1415.4,726.2 C1419.4,726.3 1425.3,726.2 1427.3,726.2" stroke="#e9a41f" stroke-width="1.8" fill="none" stroke-linecap="round"/>
<path d="M1427.3,726.2 C1426.9,725.7 1425.0,724.6 1424.7,723.1 C1424.5,721.5 1424.8,718.6 1425.8,716.8 C1426.7,715.0 1428.5,713.2 1430.5,712.1 C1432.4,711.1 1435.0,710.6 1437.2,710.6 C1439.5,710.6 1442.2,711.1 1444.0,712.1 C1445.8,713.2 1447.4,715.1 1448.2,716.8 C1448.9,718.5 1448.6,721.6 1448.7,722.5" stroke="#e9a41f" stroke-width="1.8" fill="none" stroke-linecap="round"/>
<path d="M1448.7,722.5 C1450.1,722.1 1454.7,721.0 1457.0,719.9 C1459.3,718.9 1461.1,717.7 1462.2,716.3 C1463.3,714.9 1463.9,713.6 1463.8,711.6 C1463.6,709.6 1462.6,706.8 1461.2,704.3 C1459.7,701.9 1457.4,699.3 1454.9,697.0 C1452.5,694.8 1449.4,692.7 1446.6,690.8 C1443.8,688.9 1440.9,687.8 1438.3,685.6 C1435.7,683.3 1432.7,680.4 1431.0,677.3 C1429.2,674.1 1428.3,670.3 1427.6,666.8 C1427.0,663.4 1427.1,661.9 1427.0,656.4 C1426.9,651.0 1427.0,637.8 1427.0,634.1" stroke="#e9a41f" stroke-width="1.8" fill="none" stroke-linecap="round"/>
<circle cx="1399.4" cy="704.3" r="12.6" fill="none" stroke="#e9a41f" stroke-width="1.8"/>
<ellipse cx="1427.3" cy="696.7" rx="12.8" ry="11.6" fill="none" stroke="#e9a41f" stroke-width="1.8"/>
<circle cx="1400.6" cy="699.6" r="3.9" fill="url(#ne)"/>
<circle cx="1395.8" cy="707.2" r="3.9" fill="url(#ne)"/>
<circle cx="1404.4" cy="707.2" r="3.9" fill="url(#ne)"/>
<circle cx="1422.4" cy="699.4" r="3.9" fill="url(#ne)"/>
<circle cx="1432.3" cy="699.6" r="3.9" fill="url(#ne)"/>
<circle cx="1369.6" cy="718.9" r="3.9" fill="url(#ne)"/>
<circle cx="1386.0" cy="720.5" r="3.9" fill="url(#ne)"/>
<circle cx="1374.2" cy="727.7" r="3.9" fill="url(#ne)"/>
<circle cx="1362.5" cy="731.4" r="3.9" fill="url(#ne)"/>
<circle cx="1386.0" cy="731.6" r="3.9" fill="url(#ne)"/>
<circle cx="1400.0" cy="732.6" r="3.9" fill="url(#ne)"/>
<circle cx="1416.2" cy="734.5" r="3.9" fill="url(#ne)"/>
<circle cx="1350.1" cy="739.7" r="3.9" fill="url(#ne)"/>
<circle cx="1364.9" cy="740.4" r="3.9" fill="url(#ne)"/>
<circle cx="1376.1" cy="736.8" r="3.9" fill="url(#ne)"/>
<circle cx="1392.0" cy="740.4" r="3.9" fill="url(#ne)"/>
<circle cx="1406.6" cy="742.0" r="3.9" fill="url(#ne)"/>
<circle cx="1416.9" cy="741.3" r="3.9" fill="url(#ne)"/>
<circle cx="1424.7" cy="739.4" r="3.9" fill="url(#ne)"/>
<circle cx="1438.3" cy="715.5" r="3.9" fill="url(#ne)"/>
<circle cx="1433.1" cy="722.3" r="3.9" fill="url(#ne)"/>
<circle cx="1444.0" cy="724.1" r="3.9" fill="url(#ne)"/>
<circle cx="1461.7" cy="725.1" r="3.9" fill="url(#ne)"/>
<circle cx="1433.1" cy="732.4" r="3.9" fill="url(#ne)"/>
<circle cx="1446.1" cy="733.5" r="3.9" fill="url(#ne)"/>
<circle cx="1459.9" cy="735.0" r="3.9" fill="url(#ne)"/>
<circle cx="1471.8" cy="733.5" r="3.9" fill="url(#ne)"/>
<circle cx="1438.3" cy="740.4" r="3.9" fill="url(#ne)"/>
<circle cx="1453.9" cy="741.8" r="3.9" fill="url(#ne)"/>
<path d="M1229.9,851.8 A305.4,305.4 0 0 1 1566.3,851.8" stroke="#0b68ae" stroke-width="7.6" fill="none"/>
<path d="M1383.8,760.2 L1358.9,760.6 Q1353.8,760.6 1353.7,765.6 L1351.1,824.8 Q1351.0,834.2 1358.9,834.2 Q1366.5,834.2 1366.8,825.7 L1368.3,786.9 Q1368.6,778.2 1373.3,778.2 Q1377.3,778.2 1378.7,786.9 L1385.0,829.3 Q1386.3,836.5 1389.0,836.5 Q1391.7,836.5 1392.6,829.3 L1396.4,787.8 Q1397.5,778.2 1405.2,778.2 Q1413.4,778.2 1414.1,788.7 L1415.5,839.2 Q1415.9,845.0 1419.9,845.0 Q1424.9,845.0 1425.4,838.3 L1429.2,770.7 Q1429.8,761.6 1439.2,760.9 L1445.5,760.6 Q1453.0,760.6 1453.0,769.8 L1452.7,794.1 Q1452.3,812.2 1443.7,833.8 L1437.4,852.7 Q1435.5,858.1 1430.1,858.1 L1382.3,856.3 Q1360.7,855.8 1346.3,859.9 Q1335.4,863.6 1335.1,881.6" stroke="#129144" stroke-width="7.4" fill="none" stroke-linejoin="round"/>
<text x="1252.8" y="784.7" font-size="26.6" text-anchor="start" fill="#000">β-AR</text>
<ellipse cx="1344.5" cy="897.8" rx="25.2" ry="15.9" fill="#d8d419"/>
<circle cx="1303.9" cy="899.1" r="12.4" fill="#d8d419" stroke="#fff" stroke-width="0.8"/>
<ellipse cx="1324.3" cy="924.9" rx="19.8" ry="15.9" fill="#d8d419" stroke="#fff" stroke-width="0.8"/>
<text x="1304.0" y="906.0" font-size="24" text-anchor="middle" fill="#fff">γ</text>
<text x="1340.5" y="904.5" font-size="26" text-anchor="middle" fill="#fff">α</text>
<text x="1325.0" y="934.5" font-size="24" text-anchor="middle" fill="#fff">β</text>
<ellipse cx="1448.7" cy="888.3" rx="50.5" ry="24.4" fill="#129144"/>
<text x="1449.5" y="896.0" font-size="24.1" text-anchor="middle" fill="#fff">β-arr</text>
<polygon points="1292.4,923.1 1264.9,975.1 1258.5,971.7 1249.4,1014.4 1279.7,982.9 1273.3,979.5 1300.8,927.5" fill="#231815"/>
<polygon points="1482.5,916.8 1509.2,968.6 1502.8,971.9 1532.7,1003.7 1524.1,960.9 1517.7,964.2 1490.9,912.4" fill="#231815"/>
<polygon points="1534.2,1077.5 1534.2,1147.2 1526.7,1147.2 1538.0,1189.8 1549.3,1147.2 1541.8,1147.2 1541.8,1077.5" fill="#231815"/>
<text x="1194.0" y="1042.5" font-size="27.45" text-anchor="start" fill="#808285">G protein</text>
<text x="1194.0" y="1076.0" font-size="27.45" text-anchor="start" fill="#808285">signaling</text>
<text x="1483.6" y="1028.6" font-size="27.45" text-anchor="start" fill="#000">β-arrestin</text>
<text x="1490.6" y="1061.3" font-size="27.5" text-anchor="start" fill="#000">signaling</text>
<text x="1560.0" y="1124.6" font-size="28.1" text-anchor="start" fill="#d7141a" font-weight="bold">Social Memory</text>
<text x="1394.5" y="1118.1" font-size="19.8" text-anchor="start" fill="#d7141a" font-weight="bold">Familiar</text>
<text x="1646.7" y="1207.0" font-size="19.7" text-anchor="start" fill="#d7141a" font-weight="bold">Novel</text>
<path d="M1348.9,1122.3 C1348.7,1120.4 1346.5,1114.8 1347.7,1110.9 C1348.9,1107.0 1352.1,1101.7 1356.1,1098.9 C1360.1,1096.1 1366.5,1094.5 1371.7,1094.0 C1376.9,1093.5 1383.2,1094.8 1387.3,1095.9 C1391.4,1096.9 1394.8,1099.4 1396.3,1100.1" stroke="#231815" stroke-width="1.75" fill="none" stroke-linecap="round"/>
<path d="M1392.1,1095.9 C1393.7,1094.8 1398.2,1091.1 1401.8,1089.8 C1405.4,1088.5 1410.4,1087.8 1413.8,1088.0 C1417.2,1088.2 1420.2,1089.7 1422.2,1091.0 C1424.2,1092.3 1425.2,1095.0 1425.8,1095.9" stroke="#231815" stroke-width="1.75" fill="none" stroke-linecap="round"/>
<path d="M1425.8,1094.0 C1427.0,1092.9 1429.8,1088.9 1433.0,1087.4 C1436.2,1085.9 1441.6,1084.9 1445.0,1085.0 C1448.5,1085.1 1451.4,1086.7 1453.5,1088.0 C1455.6,1089.3 1457.0,1092.0 1457.7,1092.8" stroke="#231815" stroke-width="1.75" fill="none" stroke-linecap="round"/>
<path d="M1455.9,1094.0 C1457.3,1092.9 1460.9,1088.9 1464.3,1087.4 C1467.7,1085.9 1472.3,1084.6 1476.3,1085.0 C1480.3,1085.4 1485.3,1087.9 1488.3,1089.8 C1491.3,1091.7 1493.1,1094.5 1494.3,1096.5 C1495.6,1098.4 1495.5,1100.5 1495.8,1101.3" stroke="#231815" stroke-width="1.75" fill="none" stroke-linecap="round"/>
<path d="M1495.8,1098.9 C1497.3,1099.5 1502.5,1100.5 1505.2,1102.5 C1507.8,1104.5 1510.8,1108.1 1511.8,1110.9 C1512.8,1113.7 1512.5,1116.5 1511.2,1119.3 C1509.9,1122.1 1505.2,1126.3 1504.0,1127.7" stroke="#231815" stroke-width="1.75" fill="none" stroke-linecap="round"/>
<path d="M1510.6,1121.7 C1511.5,1123.1 1515.1,1126.9 1516.0,1130.1 C1516.9,1133.3 1517.4,1137.5 1516.0,1140.9 C1514.6,1144.3 1511.6,1148.0 1507.6,1150.6 C1503.6,1153.2 1494.5,1155.6 1491.9,1156.6" stroke="#231815" stroke-width="1.75" fill="none" stroke-linecap="round"/>
<path d="M1477.5,1139.1 C1478.9,1140.0 1483.8,1142.0 1485.9,1144.5 C1488.0,1147.1 1489.7,1151.0 1490.1,1154.2 C1490.5,1157.4 1489.8,1161.0 1488.3,1163.8 C1486.8,1166.6 1484.1,1169.2 1481.1,1171.0 C1478.1,1172.8 1473.7,1174.0 1470.3,1174.6 C1466.9,1175.2 1463.3,1175.0 1460.7,1174.6 C1458.1,1174.2 1455.7,1172.6 1454.7,1172.2" stroke="#231815" stroke-width="1.75" fill="none" stroke-linecap="round"/>
<path d="M1454.1,1167.4 C1453.6,1168.8 1453.2,1173.0 1451.1,1175.8 C1449.0,1178.6 1445.2,1182.2 1441.4,1184.2 C1437.6,1186.2 1432.4,1187.5 1428.2,1187.8 C1424.0,1188.1 1420.0,1187.2 1416.2,1186.0 C1412.4,1184.8 1408.3,1182.6 1405.4,1180.6 C1402.5,1178.6 1399.9,1175.1 1398.8,1174.0" stroke="#231815" stroke-width="1.75" fill="none" stroke-linecap="round"/>
<path d="M1400.6,1178.2 C1398.6,1178.7 1392.9,1181.0 1388.5,1181.2 C1384.1,1181.4 1378.3,1180.6 1374.1,1179.4 C1369.9,1178.2 1365.6,1176.0 1363.3,1174.0 C1361.0,1172.0 1360.8,1168.5 1360.3,1167.4" stroke="#231815" stroke-width="1.75" fill="none" stroke-linecap="round"/>
<path d="M1360.3,1167.4 C1358.6,1167.7 1353.4,1169.6 1350.1,1169.2 C1346.8,1168.8 1342.9,1166.9 1340.4,1165.0 C1337.9,1163.1 1335.9,1160.2 1335.0,1157.8 C1334.1,1155.4 1334.4,1152.5 1335.0,1150.6 C1335.6,1148.7 1335.9,1147.0 1338.6,1146.3 C1341.3,1145.7 1349.2,1146.9 1351.3,1147.0" stroke="#231815" stroke-width="1.75" fill="none" stroke-linecap="round"/>
<path d="M1338.6,1146.3 C1337.5,1145.4 1333.4,1143.2 1332.0,1140.9 C1330.6,1138.6 1329.9,1135.2 1330.2,1132.5 C1330.5,1129.8 1332.1,1126.7 1333.8,1124.7 C1335.5,1122.7 1337.9,1121.4 1340.4,1120.5 C1342.9,1119.6 1347.5,1119.5 1348.9,1119.3" stroke="#231815" stroke-width="1.75" fill="none" stroke-linecap="round"/>
<ellipse cx="1461.3" cy="1190.2" rx="14.2" ry="10.4" fill="none" stroke="#231815" stroke-width="1.75" transform="rotate(-12 1461.3 1190.2)"/>
<ellipse cx="1480.5" cy="1211.3" rx="8.8" ry="6.8" fill="none" stroke="#231815" stroke-width="1.75" transform="rotate(-15 1480.5 1211.3)"/>
<defs><g id="mouse">
<path d="M32.3,102.6 C30.7,103.9 25.0,107.8 22.3,110.4 C19.6,113.0 17.2,116.0 16.2,118.2 C15.2,120.5 15.2,122.1 16.2,123.8 C17.2,125.5 18.5,126.8 22.3,128.3 C26.1,129.8 33.5,131.5 39.0,132.7 C44.6,133.9 49.8,134.8 55.8,135.5 C61.7,136.2 71.6,136.7 74.7,137.0" stroke="currentColor" stroke-width="7.4" fill="none"/>
<path d="M61.9,52.4 C61.3,50.8 58.8,45.9 58.0,42.4 C57.2,38.9 56.8,35.0 57.1,31.2 C57.4,27.5 58.2,23.4 59.7,20.1 C61.1,16.7 63.3,13.2 65.8,11.2 C68.3,9.1 71.6,8.0 74.7,8.0 C77.9,8.0 81.6,9.3 84.8,11.2 C87.9,13.0 91.5,16.2 93.7,19.0 C95.9,21.8 97.2,24.5 98.2,27.9 C99.1,31.2 99.2,35.9 99.3,39.0 C99.3,42.2 98.5,45.4 98.4,46.6 L108.0,46.6 C108.0,44.4 107.8,37.9 108.2,33.5 C108.6,29.0 109.3,23.6 110.4,20.1 C111.5,16.5 113.0,13.8 114.9,12.3 C116.8,10.8 119.0,10.6 121.6,11.2 C124.2,11.7 127.5,13.4 130.5,15.6 C133.5,17.8 137.0,21.4 139.4,24.5 C141.8,27.7 143.9,31.6 145.0,34.6 C146.2,37.6 146.5,39.8 146.3,42.4 C146.2,45.0 145.4,48.0 143.9,50.2 C142.4,52.4 139.8,54.5 137.2,55.8 C134.6,57.1 129.8,57.6 128.3,58.0 C129.2,59.9 131.8,65.3 133.9,69.2 C135.9,73.1 138.8,77.5 140.5,81.4 C142.3,85.3 143.8,89.4 144.5,92.6 C145.1,95.7 144.9,98.0 144.5,100.4 C144.0,102.8 143.8,105.7 141.7,107.1 C139.5,108.5 135.5,108.8 131.6,108.8 C127.7,108.8 122.1,107.8 118.2,107.1 C114.3,106.3 109.9,104.8 108.2,104.3 C107.6,105.5 105.5,109.4 104.9,111.5 C104.2,113.7 103.9,115.0 104.3,117.1 C104.7,119.3 106.6,123.2 107.1,124.4 C105.0,124.5 99.0,124.8 94.8,124.9 C90.6,125.0 84.1,124.9 82.0,124.9 C81.3,124.3 79.5,122.1 78.1,121.0 C76.7,119.9 74.4,118.7 73.6,118.2 L72.5,124.7 L46.8,121.8 C45.4,120.8 40.3,118.5 37.9,116.0 C35.5,113.6 33.8,110.1 32.3,107.1 C30.9,104.1 29.8,101.9 29.2,98.2 C28.6,94.4 28.3,89.1 28.8,84.8 C29.3,80.5 30.6,76.2 32.3,72.5 C34.1,68.8 36.4,65.3 39.0,62.5 C41.6,59.7 45.0,57.4 48.0,55.8 C50.9,54.2 54.6,53.5 56.9,53.0 C59.2,52.4 61.1,52.5 61.9,52.4Z" fill="currentColor"/>
<path d="M68.0,67.8 L79.2,74.5 L79.2,74.5 C79.8,76.4 80.7,82.5 82.5,85.9 C84.4,89.3 87.0,92.3 90.4,94.8 C93.7,97.3 100.6,99.7 102.6,100.7 M55.5,84.2 C57.1,84.2 61.9,83.4 64.7,84.2 C67.5,85.1 70.4,86.9 72.5,89.2 C74.6,91.6 76.7,95.2 77.5,98.2 C78.4,101.1 78.2,104.3 77.5,107.1 C76.9,109.9 75.3,113.0 73.6,114.9 C71.9,116.8 68.5,117.7 67.5,118.2 M67.5,118.2 C67.8,118.8 68.1,120.7 69.2,121.6 C70.2,122.5 73.2,123.3 73.6,123.8 C74.0,124.3 75.9,125.1 71.4,124.7 C66.8,124.3 50.5,121.9 46.3,121.4 M96.5,100.4 C96.2,101.5 96.0,105.0 94.8,107.1 C93.6,109.1 90.4,111.2 89.2,112.7 C88.1,114.1 87.7,114.5 88.1,116.0 C88.5,117.5 90.4,120.2 91.5,121.6 C92.5,123.0 94.1,123.9 94.6,124.4" stroke="#231815" stroke-width="1.45" fill="none" stroke-linecap="round" stroke-linejoin="round"/>
<ellipse cx="104.3" cy="78.4" rx="4.6" ry="4.4" fill="#231815"/><ellipse cx="127.2" cy="77.2" rx="4.4" ry="4.2" fill="#231815"/>
<ellipse cx="138.9" cy="104.3" rx="3.8" ry="4.5" fill="#231815" transform="rotate(-25 138.9 104.3)"/>
</g></defs>
<use href="#mouse" transform="translate(1420,1195)" color="#7f8386"/>
<use href="#mouse" transform="translate(1750.7,1204) scale(-1,1)" color="#8560b3"/>
<use href="#mouse" transform="translate(1392.4,1118.1) scale(0.42)" color="#68a688"/>
<ellipse cx="1480.5" cy="1211.3" rx="8.8" ry="6.8" fill="none" stroke="#231815" stroke-width="1.75" transform="rotate(-15 1480.5 1211.3)"/>
<circle cx="1680" cy="707.9" r="18.3" fill="url(#ne)"/>
<polygon points="1677.3,753.3 1660.2,783.9 1694.9,783.9" fill="#f2c277"/>
<path d="M1383.8,760.2 L1358.9,760.6 Q1353.8,760.6 1353.7,765.6 L1351.1,824.8 Q1351.0,834.2 1358.9,834.2 Q1366.5,834.2 1366.8,825.7 L1368.3,786.9 Q1368.6,778.2 1373.3,778.2 Q1377.3,778.2 1378.7,786.9 L1385.0,829.3 Q1386.3,836.5 1389.0,836.5 Q1391.7,836.5 1392.6,829.3 L1396.4,787.8 Q1397.5,778.2 1405.2,778.2 Q1413.4,778.2 1414.1,788.7 L1415.5,839.2 Q1415.9,845.0 1419.9,845.0 Q1424.9,845.0 1425.4,838.3 L1429.2,770.7 Q1429.8,761.6 1439.2,760.9 L1445.5,760.6 Q1453.0,760.6 1453.0,769.8 L1452.7,794.1 Q1452.3,812.2 1443.7,833.8 L1437.4,852.7 Q1435.5,858.1 1430.1,858.1 L1382.3,856.3 Q1360.7,855.8 1346.3,859.9 Q1335.4,863.6 1335.1,881.6" stroke="#129144" stroke-width="7.5" fill="none" stroke-linejoin="round" transform="translate(1195.4,553.6) scale(0.345)"/>
<path d="M1643.3,893.6 Q1674.1,876.2 1704.9,893.6" stroke="#0b68ae" stroke-width="5.2" fill="none"/>
<text x="1727.3" y="720.0" font-size="27.75" text-anchor="start" fill="#000">Norepinephrine</text>
<text x="1727.3" y="778.7" font-size="27.75" text-anchor="start" fill="#000">Noradrenergic neuron</text>
<text x="1727.8" y="835.9" font-size="26.7" text-anchor="start" fill="#000">β-AR</text>
<text x="1731.0" y="900.5" font-size="27.65" text-anchor="start" fill="#000">Cell membrane</text>
</g>
</svg>
</body></html>
